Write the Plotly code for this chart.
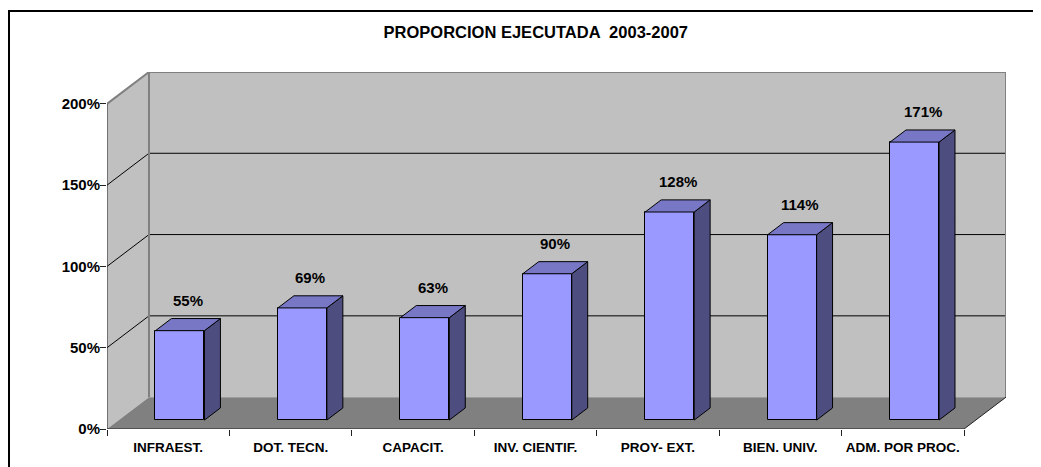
import plotly.graph_objects as go

# ---- data ----
categories = ["INFRAEST.", "DOT. TECN.", "CAPACIT.", "INV. CIENTIF.",
              "PROY- EXT.", "BIEN. UNIV.", "ADM. POR PROC."]
values = [55, 69, 63, 90, 128, 114, 171]
value_labels = ["55%", "69%", "63%", "90%", "128%", "114%", "171%"]
y_ticks = [0, 50, 100, 150, 200]
y_tick_labels = ["0%", "50%", "100%", "150%", "200%"]
title_text = "PROPORCION EJECUTADA  2003-2007"

# ---- pseudo-3D geometry (style) ----
N = len(categories)
YMAX = 200
DX = 0.343      # depth offset, x units
DY = 19.6       # depth offset, y units
D0 = 0.28       # depth fraction where bar front sits
BD = 0.38       # bar depth fraction
BW = 0.40       # bar width (category units)

WALL = "#C0C0C0"
FLOOR = "#808080"
EDGE = "#808080"
FRONT = "#9999FF"
TOP = "#7777C6"
SIDE = "#4D4D80"
FONT = "Liberation Sans, Arial, sans-serif"

W, H = 1033, 459
ML, MR, MT, MB = 99, 35, 64, 38

fig = go.Figure()

# bar front faces
xs = [i + 0.5 + D0 * DX for i in range(N)]
fig.add_trace(go.Bar(
    x=xs, y=values, base=[D0 * DY] * N, width=BW,
    marker=dict(color=FRONT, line=dict(color="black", width=1)),
    hoverinfo="skip", showlegend=False))

# side and top faces from data
sx, sy, tx, ty = [], [], [], []
bdx, bdy = BD * DX, BD * DY
for x, v in zip(xs, values):
    b = D0 * DY
    xl, xr = x - BW / 2, x + BW / 2
    sx += [xr, xr + bdx, xr + bdx, xr, xr, None]
    sy += [b, b + bdy, b + bdy + v, b + v, b, None]
    tx += [xl, xr, xr + bdx, xl + bdx, xl, None]
    ty += [b + v, b + v, b + v + bdy, b + v + bdy, b + v, None]
fig.add_trace(go.Scatter(x=sx, y=sy, mode="lines", fill="toself", fillcolor=SIDE,
                         line=dict(color="black", width=1), hoverinfo="skip", showlegend=False))
fig.add_trace(go.Scatter(x=tx, y=ty, mode="lines", fill="toself", fillcolor=TOP,
                         line=dict(color="black", width=1), hoverinfo="skip", showlegend=False))

# data labels
for x, v, t in zip(xs, values, value_labels):
    fig.add_annotation(x=x + bdx / 2, y=D0 * DY + bdy + v, text=t, showarrow=False,
                       yanchor="middle", yshift=18,
                       font=dict(family=FONT, size=15, color="black", weight="bold"))

shapes = []
# back wall
shapes.append(dict(type="rect", xref="x", yref="y", x0=DX, x1=N + DX, y0=DY, y1=YMAX + DY,
                   fillcolor=WALL, line=dict(width=0), layer="below"))
# side wall
shapes.append(dict(type="path", xref="x", yref="y",
                   path=f"M 0,0 L {DX},{DY} L {DX},{YMAX + DY} L 0,{YMAX} Z",
                   fillcolor=WALL, line=dict(width=0), layer="below"))
# floor
shapes.append(dict(type="path", xref="x", yref="y",
                   path=f"M 0,0 L {N},0 L {N + DX},{DY} L {DX},{DY} Z",
                   fillcolor=FLOOR, line=dict(width=0), layer="below"))
# gridlines
for v in y_ticks[1:-1]:
    shapes.append(dict(type="line", xref="x", yref="y", x0=0, y0=v, x1=DX, y1=v + DY,
                       line=dict(color="black", width=1), layer="below"))
    shapes.append(dict(type="line", xref="x", yref="y", x0=DX, y0=v + DY, x1=N + DX, y1=v + DY,
                       line=dict(color="black", width=1), layer="below"))
# wall edges
shapes.append(dict(type="line", xref="x", yref="y", x0=0, y0=YMAX, x1=DX, y1=YMAX + DY,
                   line=dict(color=EDGE, width=2), layer="below"))
shapes.append(dict(type="line", xref="x", yref="y", x0=DX, y0=YMAX + DY, x1=N + DX, y1=YMAX + DY,
                   line=dict(color=EDGE, width=2), layer="below"))
shapes.append(dict(type="line", xref="x", yref="y", x0=DX, y0=DY, x1=DX, y1=YMAX + DY,
                   line=dict(color=EDGE, width=2), layer="below"))
shapes.append(dict(type="line", xref="x", yref="y", x0=N + DX, y0=DY, x1=N + DX, y1=YMAX + DY,
                   line=dict(color=EDGE, width=2), layer="below"))
shapes.append(dict(type="line", xref="x", yref="y", x0=N, y0=0, x1=N + DX, y1=DY,
                   line=dict(color="#222222", width=1), layer="below"))
# front axis lines
shapes.append(dict(type="line", xref="x", yref="y", x0=0, y0=0, x1=0, y1=YMAX,
                   line=dict(color="#222222", width=1), layer="below"))
shapes.append(dict(type="line", xref="x", yref="y", x0=0, y0=0, x1=N, y1=0,
                   line=dict(color="#222222", width=1), layer="below"))
# outer border (left and top edges visible)
pw, ph = W - ML - MR, H - MT - MB
shapes.append(dict(type="rect", xref="paper", yref="paper",
                   x0=-(ML - 1) / pw, x1=1.2, y0=-0.3, y1=(ph + MT - 3) / ph,
                   line=dict(color="black", width=2), fillcolor="rgba(0,0,0,0)", layer="above"))

fig.update_layout(
    width=W, height=H,
    margin=dict(l=ML, r=MR, t=MT, b=MB),
    paper_bgcolor="white", plot_bgcolor="white",
    shapes=shapes,
    bargap=0,
    title=dict(text=title_text, x=0.477, xref="paper", y=1 - 24 / H, yref="container",
               xanchor="center", yanchor="middle",
               font=dict(family=FONT, size=16.5, color="black", weight="bold")),
    xaxis=dict(range=[0, N + DX], tickmode="array",
               tickvals=[i + 0.5 for i in range(N)], ticktext=categories,
               ticks="outside", ticklen=6, tickcolor="rgba(0,0,0,0)",
               minor=dict(tickmode="array", tickvals=list(range(N + 1)), ticks="outside",
                          ticklen=6, tickcolor="#222222", showgrid=False),
               showgrid=False, zeroline=False, showline=False, fixedrange=True,
               automargin=False,
               tickfont=dict(family=FONT, size=13.5, color="black", weight="bold")),
    yaxis=dict(range=[0, YMAX + DY], tickmode="array", tickvals=y_ticks, ticktext=y_tick_labels,
               ticks="outside", ticklen=6, tickcolor="#222222", ticklabelstandoff=-3,
               showgrid=False, zeroline=False, showline=False, fixedrange=True,
               automargin=False,
               tickfont=dict(family=FONT, size=15, color="black", weight="bold")),
)

fig.write_html("out.html")
